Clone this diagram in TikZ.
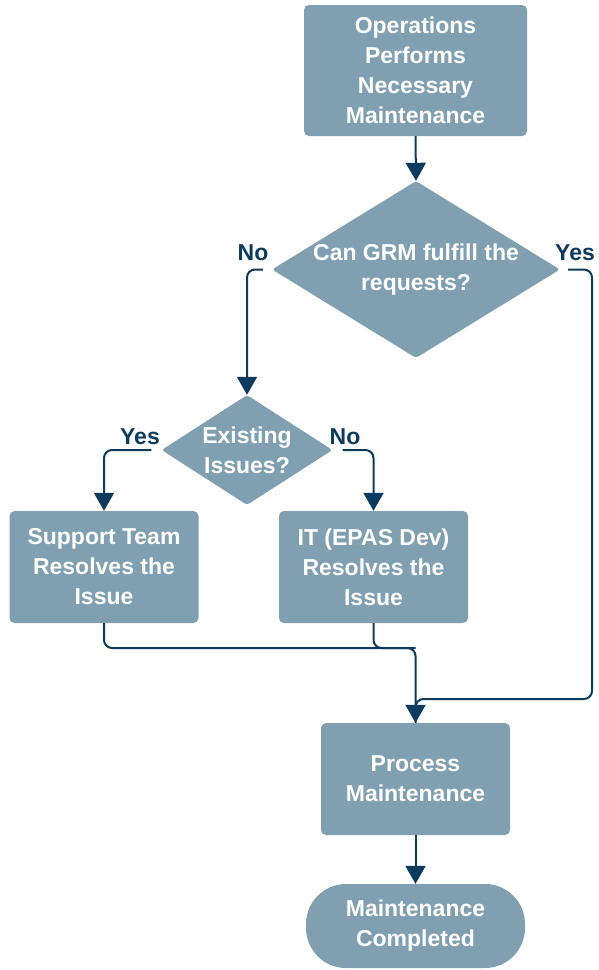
\documentclass[tikz,border=0pt]{standalone}
\usepackage{fontspec}
\setmainfont{Liberation Sans}
\usetikzlibrary{shapes.geometric,arrows.meta}
\definecolor{boxfill}{HTML}{809FB0}
\definecolor{navy}{HTML}{0C3B5E}
\tikzset{
  txt/.style={font=\bfseries\fontsize{23}{30}\selectfont, text=white, align=center, inner sep=0pt},
  procbox/.style={txt, rectangle, fill=boxfill, rounded corners=5pt},
  decis/.style={diamond, fill=boxfill, rounded corners=3pt, inner sep=0pt},
  termbox/.style={txt, rectangle, fill=boxfill, rounded corners=40pt},
  lbl/.style={font=\bfseries\fontsize{23}{30}\selectfont, text=navy, inner sep=0pt},
  conn/.style={draw=navy, line width=2pt, rounded corners=8pt},
  arr/.style={conn, -{Triangle[width=20pt,length=18pt]}}
}
\begin{document}
\begin{tikzpicture}[x=1pt,y=-1pt]
\useasboundingbox (0,0) rectangle (598,970);
\node[procbox, minimum width=223pt, minimum height=131pt] (top) at (415.5,70.5) {Operations\\Performs\\Necessary\\Maintenance};
\node[decis, minimum width=288pt, minimum height=177pt, label={[txt]center:Can GRM fulfill the\\requests?}] (d1) at (416,269.5) {};
\node[decis, minimum width=171pt, minimum height=110pt, label={[txt]center:Existing\\Issues?}] (d2) at (247,450) {};
\node[procbox, minimum width=189pt, minimum height=112pt] (sup) at (104,567) {Support Team\\Resolves the\\Issue};
\node[procbox, minimum width=189pt, minimum height=112pt] (it) at (373.5,567) {IT (EPAS Dev)\\Resolves the\\Issue};
\node[procbox, minimum width=189pt, minimum height=112pt] (proc) at (415.5,779) {Process\\Maintenance};
\node[termbox, minimum width=219pt, minimum height=84pt] (end) at (415.5,926) {Maintenance\\Completed};

\node[lbl] (lno1) at (253,253) {No};
\node[lbl] (lyes1) at (575,253) {Yes};
\node[lbl] (lyes2) at (140,437) {Yes};
\node[lbl] (lno2) at (345,437) {No};

\coordinate (yr) at (592,699);
\coordinate (mj) at (415.5,648);

\draw[arr] (top.south) -- (d1.north);
\draw[arr, shorten <=9pt] (d1.west) -| (d2.north);
\draw[conn, shorten <=8pt] (d1.east) -| (yr) -- (proc.north |- yr) -- (proc.north);
\draw[arr, shorten <=10pt] (d2.west) -| (sup.north);
\draw[arr, shorten <=10pt] (d2.east) -| (it.north);
\draw[conn] (it.south) |- (mj);
\draw[arr] (sup.south) |- (mj) -- (proc.north);
\draw[arr] (proc.south) -- (end.north);
\end{tikzpicture}
\end{document}
